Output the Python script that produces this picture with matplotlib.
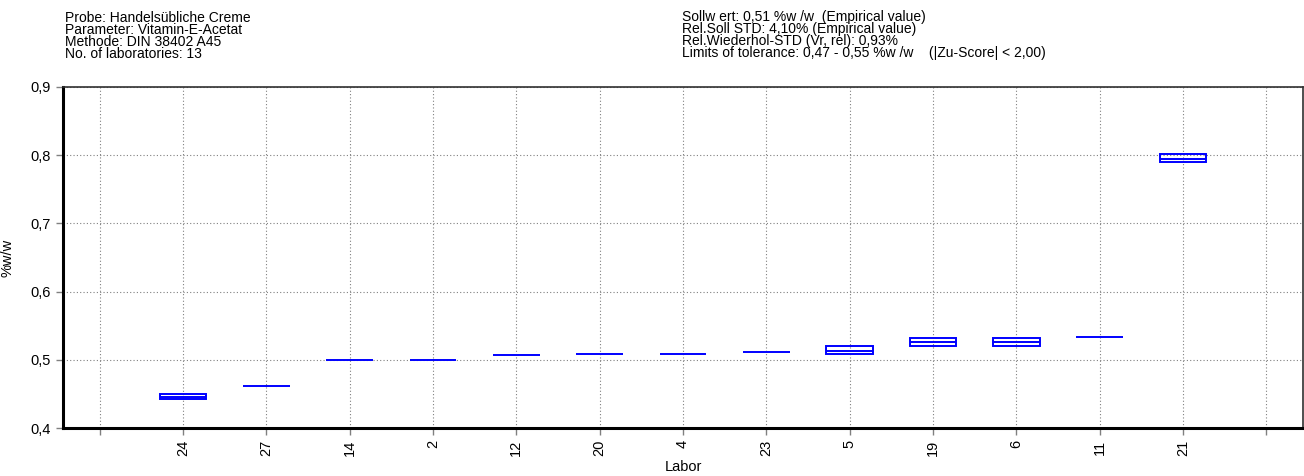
import matplotlib
matplotlib.use("Agg")
import matplotlib.pyplot as plt
from matplotlib.patches import Rectangle
from matplotlib.ticker import FuncFormatter

plt.rcParams['font.family'] = ['Liberation Sans', 'DejaVu Sans']

# lab codes in plot order, with min / median / max of the replicate results
labs = ["24", "27", "14", "2", "12", "20", "4", "23", "5", "19", "6", "11", "21"]
res_min = [0.443, 0.461, 0.500, 0.500, 0.507, 0.509, 0.509, 0.511, 0.5085, 0.520, 0.520, 0.533, 0.7905]
res_med = [0.446, 0.461, 0.500, 0.500, 0.507, 0.509, 0.509, 0.511, 0.513, 0.5255, 0.5255, 0.533, 0.795]
res_max = [0.4495, 0.461, 0.500, 0.500, 0.507, 0.509, 0.509, 0.511, 0.520, 0.5315, 0.5315, 0.533, 0.8015]

y_ticks = [0.4, 0.5, 0.6, 0.7, 0.8, 0.9]

head_left = ["Probe: Handelsübliche Creme",
             "Parameter: Vitamin-E-Acetat",
             "Methode: DIN 38402 A45",
             "No. of laboratories: 13"]
head_right = ["Sollw ert: 0,51 %w /w  (Empirical value)",
              "Rel.Soll STD: 4,10% (Empirical value)",
              "Rel.Wiederhol-STD (Vr, rel): 0,93%",
              "Limits of tolerance: 0,47 - 0,55 %w /w    (|Zu-Score| < 2,00)"]

fig = plt.figure(figsize=(13.04, 4.76), dpi=100)
ax = fig.add_axes([63 / 1304, 1 - 428 / 476, (1303 - 63) / 1304, (428 - 87) / 476])

half = 0.28
for i, (lo, md, hi) in enumerate(zip(res_min, res_med, res_max)):
    x = i + 1
    if hi - lo > 1e-6:
        ax.add_patch(Rectangle((x - half, lo), 2 * half, hi - lo, fill=False,
                               edgecolor="#0000ff", lw=1.4, zorder=3))
    ax.plot([x - half, x + half], [md, md], color="#0000ff", lw=1.4,
            solid_capstyle="butt", zorder=3)

ax.set_xlim(-0.44, 14.44)
ax.set_ylim(0.4, 0.9)
ax.set_xticks(range(0, 15))
ax.set_xticklabels([""] + labs + [""], rotation=90)
ax.set_yticks(y_ticks)
ax.yaxis.set_major_formatter(FuncFormatter(lambda v, p: ("%.1f" % v).replace(".", ",")))
ax.tick_params(axis="both", colors="#808080", length=5, width=1, labelcolor="black", labelsize=10.5)

ax.grid(True, color="#808080", linestyle=(0, (1, 2)), lw=0.8)
ax.set_axisbelow(True)

for s in ["left", "bottom"]:
    ax.spines[s].set_linewidth(2.2)
    ax.spines[s].set_color("black")
for s in ["top", "right"]:
    ax.spines[s].set_linewidth(1.2)
    ax.spines[s].set_color("#303030")

ax.set_xlabel("Labor", fontsize=10.5, labelpad=3)
ax.set_ylabel("%w/w", fontsize=10.5)
ax.yaxis.set_label_coords(-48 / 1240, 0.5)

for k, line in enumerate(head_left):
    fig.text(65 / 1304, 1 - (17.5 + 12 * k) / 476, line, fontsize=10, va="center", ha="left")
for k, line in enumerate(head_right):
    fig.text(682 / 1304, 1 - (17.5 + 12 * k) / 476, line, fontsize=10, va="center", ha="left")

fig.savefig("out.png", dpi=100)
